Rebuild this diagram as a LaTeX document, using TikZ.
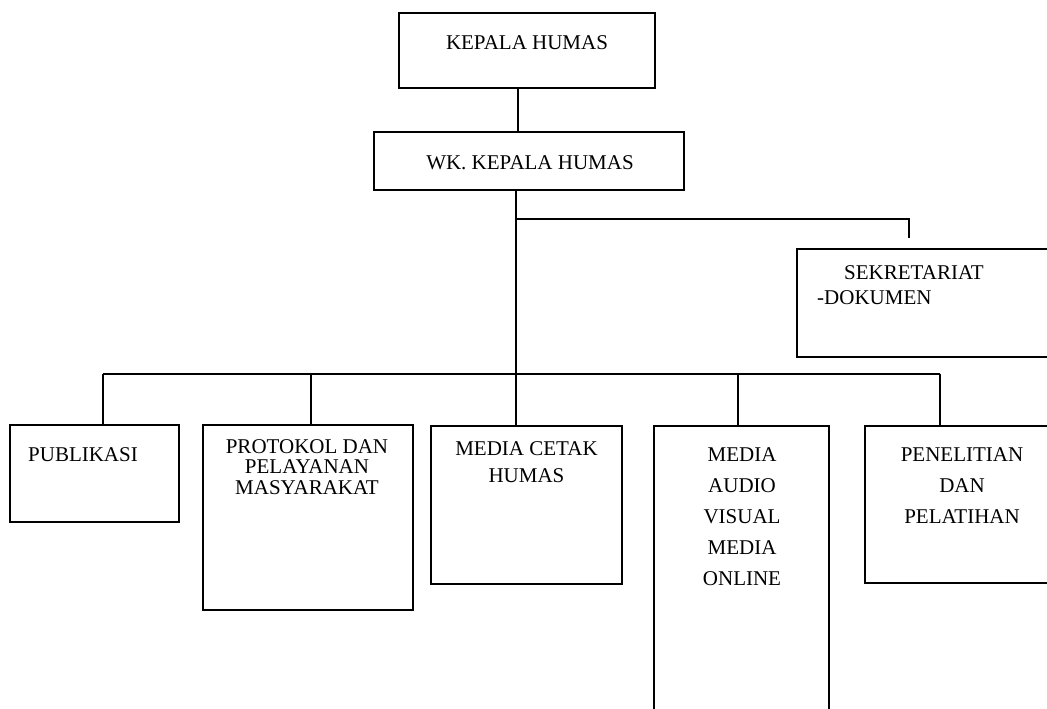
\documentclass[tikz,border=0pt]{standalone}
\usepackage{fontspec}
\setmainfont{Liberation Serif}
\begin{document}
\begin{tikzpicture}[x=1pt,y=-1pt,
  box/.style={draw,line width=1.8pt,rectangle,inner sep=0pt,minimum width=#1},
  lbl/.style={inner sep=0pt,anchor=north,align=center},
  conn/.style={line width=1.8pt}]
\clip (0,0) rectangle (1047,709);
\fill[white] (0,0) rectangle (1047,709);
% boxes
\node[box=256pt,minimum height=75pt] (kepala) at (527,50.5) {};
\node[box=310pt,minimum height=58pt] (wk) at (529,161) {};
\node[box=273pt,minimum height=108pt] (sek) at (933.5,303) {};
\node[box=169pt,minimum height=97pt] (pub) at (94.5,473.5) {};
\node[box=210pt,minimum height=185pt] (prot) at (308,517.5) {};
\node[box=191pt,minimum height=158pt] (cetak) at (526.5,505) {};
\node[box=175pt,minimum height=334pt] (audio) at (741.5,593) {};
\node[box=205pt,minimum height=157pt] (pen) at (967.5,504.5) {};
% texts
\node[lbl,font=\fontsize{21}{25}\selectfont] (tkepala) at (527,35) {KEPALA HUMAS};
\node[lbl,font=\fontsize{21}{25}\selectfont] (twk) at (530,155) {WK. KEPALA HUMAS};
\node[lbl,anchor=north west,align=left,font=\fontsize{21}{25}\selectfont] (tsek) at (817,265) {\hspace*{27pt}SEKRETARIAT\\-DOKUMEN};
\node[lbl,font=\fontsize{21}{25}\selectfont] (tpub) at (83,447) {PUBLIKASI};
\node[lbl,font=\fontsize{21}{20.5}\selectfont] (tprot) at (307,439) {PROTOKOL DAN\\PELAYANAN\\MASYARAKAT};
\node[lbl,font=\fontsize{21}{27}\selectfont] (tcetak) at (526.5,441) {MEDIA CETAK\\HUMAS};
\node[lbl,font=\fontsize{21}{31}\selectfont] (taudio) at (742,447) {MEDIA\\AUDIO\\VISUAL\\MEDIA\\ONLINE};
\node[lbl,font=\fontsize{21}{31}\selectfont] (tpen) at (962,447) {PENELITIAN\\DAN\\PELATIHAN};
% connector coordinates
\coordinate (c1) at (518,100);
\coordinate (tr) at (516,300);
\coordinate (sb) at (0,219);
\coordinate (sx) at (909,0);
\coordinate (send) at (909,238);
\coordinate (bus) at (0,374);
\coordinate (d1) at (103,0);
\coordinate (d2) at (311,0);
\coordinate (d4) at (738,0);
\coordinate (d5) at (940,0);
% connectors
\draw[conn] (c1 |- kepala.south) -- (c1 |- wk.north);
\draw[conn] (tr |- wk.south) -- (tr |- cetak.north);
\draw[conn] (tr |- sb) -- (sx |- sb) -- (send);
\draw[conn] (d1 |- bus) -- (d5 |- bus);
\draw[conn] (d1 |- bus) -- (d1 |- pub.north);
\draw[conn] (d2 |- bus) -- (d2 |- prot.north);
\draw[conn] (d4 |- bus) -- (d4 |- audio.north);
\draw[conn] (d5 |- bus) -- (d5 |- pen.north);
\end{tikzpicture}
\end{document}
